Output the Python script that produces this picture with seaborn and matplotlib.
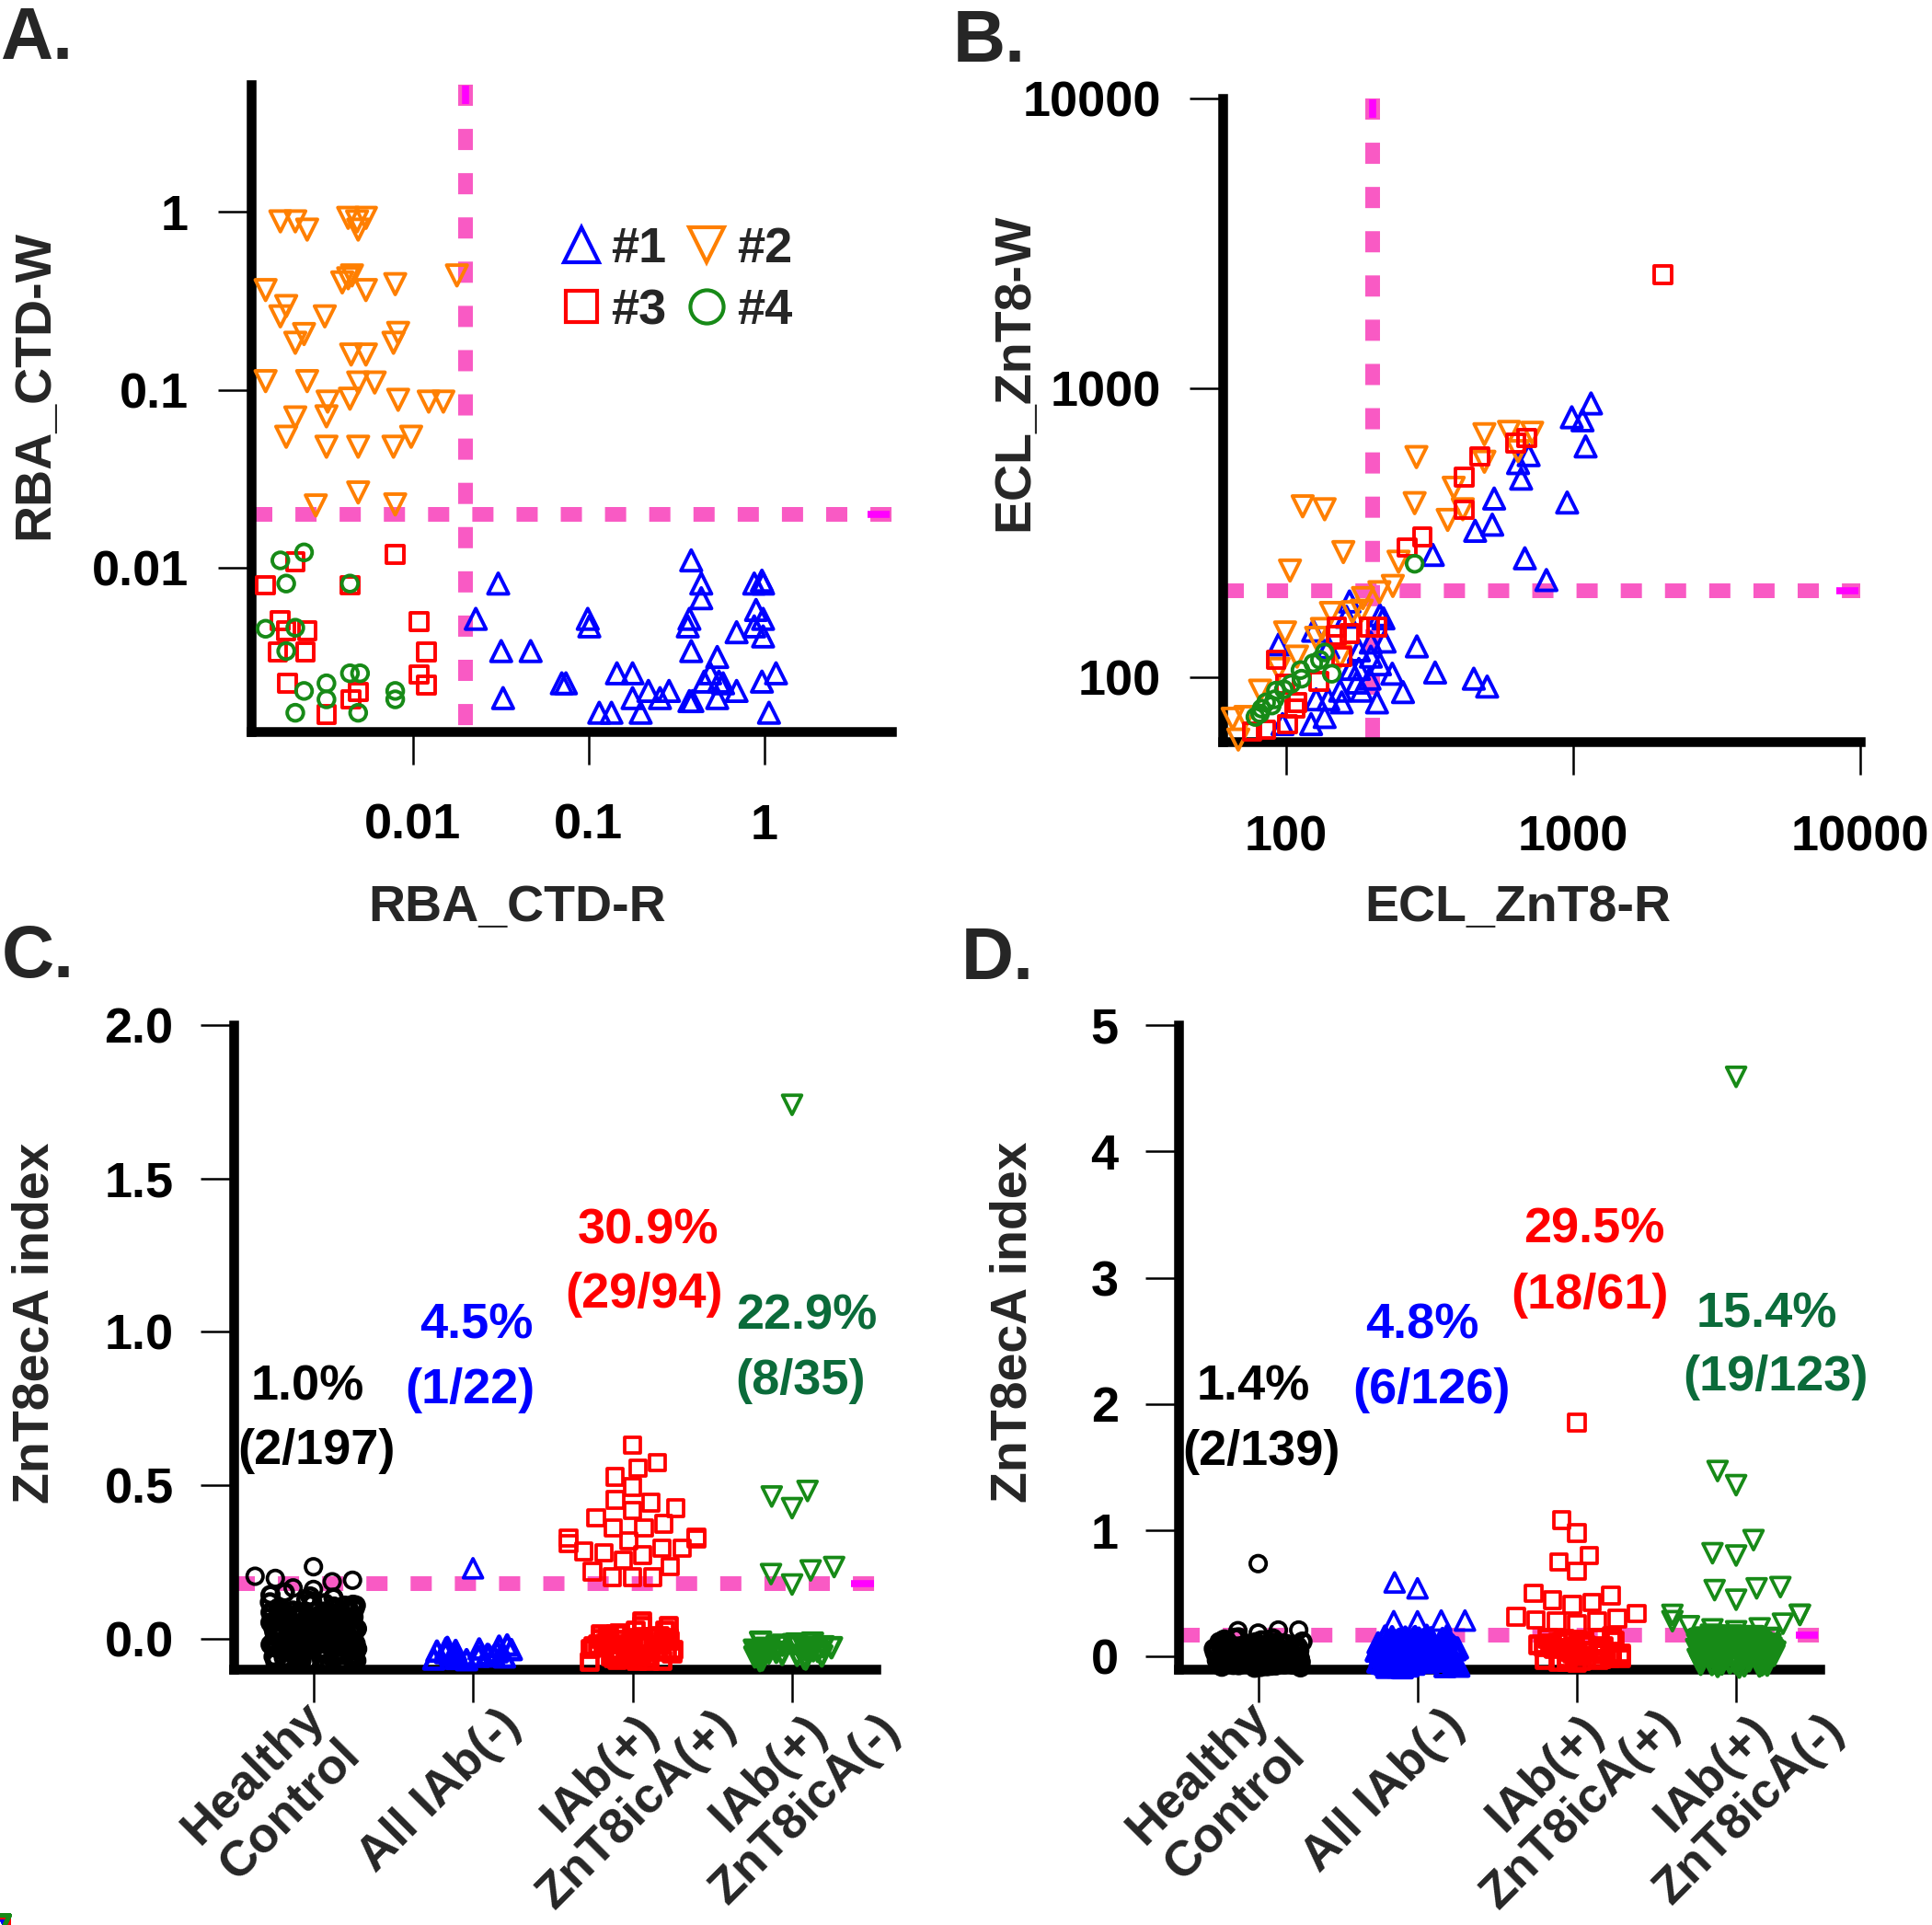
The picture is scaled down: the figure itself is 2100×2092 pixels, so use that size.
import numpy as np
import pandas as pd
import matplotlib
matplotlib.use("Agg")
import matplotlib.pyplot as plt
from matplotlib.lines import Line2D
from matplotlib.ticker import NullLocator
import seaborn as sns

# ---------------- Panel A: RBA_CTD-R (x) vs RBA_CTD-W (y) ----------------
a1_x = [0.0306, 0.0228, 0.0318, 0.0468, 0.0326, 0.0989, 0.101, 0.0704, 0.0743, 0.115, 0.135, 0.145, 0.178, 0.198,
        0.178, 0.219, 0.255, 0.287, 0.384, 0.438, 0.438, 0.375, 0.367, 0.384, 0.375, 0.39, 0.54, 0.492, 0.455,
        0.552, 0.583, 0.54, 0.696, 0.696, 0.877, 0.97, 0.985, 0.898, 0.985, 0.877, 0.985, 0.97, 1.167, 1.064]
a1_y = [0.00815, 0.00516, 0.0034, 0.0034, 0.00185, 0.00516, 0.00468, 0.00224, 0.00224, 0.00153, 0.00153, 0.00255,
        0.00255, 0.00153, 0.00185, 0.00203, 0.00185, 0.00203, 0.011, 0.00815, 0.00674, 0.00516, 0.00468, 0.0034,
        0.00178, 0.00178, 0.00315, 0.00255, 0.00229, 0.00229, 0.00224, 0.00185, 0.00434, 0.00203, 0.00815,
        0.00846, 0.00815, 0.00579, 0.00516, 0.00468, 0.00411, 0.00229, 0.00255, 0.00153]
a2_x = [0.00176, 0.00214, 0.0025, 0.00428, 0.00481, 0.0054, 0.00488, 0.00145, 0.00428, 0.0045, 0.00396, 0.0054,
        0.00793, 0.0178, 0.0019, 0.00176, 0.00315, 0.0024, 0.00214, 0.00824, 0.00775, 0.00445, 0.0054, 0.00145,
        0.0025, 0.00488, 0.00606, 0.00438, 0.00327, 0.00824, 0.0123, 0.0149, 0.00214, 0.00322, 0.0019, 0.00322,
        0.00488, 0.00775, 0.00977, 0.0028, 0.00488, 0.00793]
a2_y = [0.886, 0.886, 0.796, 0.927, 0.886, 0.927, 0.796, 0.364, 0.424, 0.44, 0.402, 0.364, 0.393, 0.44, 0.296,
        0.259, 0.259, 0.206, 0.184, 0.209, 0.184, 0.158, 0.158, 0.112, 0.112, 0.11, 0.11, 0.0892, 0.0859, 0.0879,
        0.0859, 0.0859, 0.07, 0.071, 0.0545, 0.0479, 0.0479, 0.0479, 0.0545, 0.0224, 0.0265, 0.0227]
a3_x = [0.00214, 0.00793, 0.00145, 0.00438, 0.00176, 0.0019, 0.0025, 0.0017, 0.00244, 0.0108, 0.0119, 0.00193,
        0.0108, 0.0119, 0.00488, 0.00445, 0.00322]
a3_y = [0.0108, 0.0119, 0.00796, 0.00796, 0.00505, 0.00443, 0.00443, 0.00335, 0.00335, 0.00497, 0.00335, 0.00224,
        0.00251, 0.00219, 0.0020, 0.00182, 0.0015]
a4_x = [0.00176, 0.0024, 0.0019, 0.00438, 0.00145, 0.00214, 0.0019, 0.00438, 0.005, 0.00322, 0.0024, 0.00322,
        0.00793, 0.00793, 0.00214, 0.00488]
a4_y = [0.011, 0.0122, 0.00815, 0.00815, 0.00454, 0.0046, 0.0034, 0.00255, 0.00255, 0.00224, 0.00203, 0.00182,
        0.00203, 0.00182, 0.00153, 0.00153]

# ---------------- Panel B: ECL_ZnT8-R (x) vs ECL_ZnT8-W (y) ----------------
b1_x = [1153, 988, 1077, 1104, 530, 952, 522, 455, 678, 806, 642, 658, 699, 324, 285, 330, 450, 501, 255, 218,
        220, 212, 197, 195, 176, 179, 207, 168, 154, 156, 140, 127, 136, 122, 97, 94, 124, 140, 162, 197, 179, 183,
        166, 212, 234]
b1_y = [884, 792, 773, 628, 415, 402, 337, 321, 258, 217, 550, 486, 586, 265, 128, 104, 99, 93, 89, 160, 133, 111,
        118, 99, 96, 124, 82, 107, 90, 82, 84, 84, 73, 69, 69, 130, 145, 127, 162, 132, 107, 90, 183, 164, 103]
b2_x = [490, 597, 719, 642, 490, 284, 383, 114, 136, 280, 412, 365, 158, 103, 246, 235, 211, 185, 170, 183, 143,
        99, 127, 133, 154, 109, 81, 65, 68, 72, 94]
b2_y = [692, 705, 700, 605, 556, 577, 452, 390, 381, 400, 381, 350, 271, 234, 251, 207, 197, 188, 168, 170, 167,
        143, 137, 147, 118, 118, 90, 72, 61, 73, 107]
b3_x = [2050, 631, 688, 472, 417, 417, 298, 264, 207, 195, 150, 166, 149, 156, 92, 130, 109, 101, 76, 85, 107, 99]
b3_y = [2460, 644, 671, 580, 492, 379, 306, 281, 149, 149, 149, 142, 140, 118, 115, 97, 82, 69, 65, 66, 78, 95]
b4_x = [280, 136, 144, 131, 124, 112, 113, 104, 98, 92, 91, 85, 82, 78, 81, 89]
b4_y = [247, 122, 103, 115, 112, 106, 99, 95, 91, 90, 84, 82, 78, 73, 75, 80]

# ---------------- Panel C: ZnT8ecA index, cohort 1 ----------------
groups = ["Healthy Control", "All IAb(-)", "IAb(+) ZnT8icA(+)", "IAb(+) ZnT8icA(-)"]
group_ticks = ["Healthy\nControl", "All IAb(-)", "IAb(+)\nZnT8icA(+)", "IAb(+)\nZnT8icA(-)"]

c_hc = [0.234, 0.203, 0.196, 0.190, 0.185, 0.165, 0.160, 0.150, 0.142, 0.137, 0.133, 0.126, 0.121, 0.118, 0.113,
        0.110, 0.107, 0.104, 0.100, 0.097, 0.094, 0.092, 0.088, 0.085, 0.083, 0.079, 0.076, 0.074, 0.071, 0.068,
        0.066, 0.063, 0.061, 0.058, 0.055, 0.053, 0.050, 0.047, 0.045, 0.043, 0.040, 0.037, 0.034, 0.032, 0.029,
        0.027, 0.024, 0.021, 0.019, 0.016, 0.013, 0.011, 0.008, 0.006, 0.003, 0.001, -0.002, -0.004, -0.007,
        -0.010, -0.012, -0.015, -0.017, -0.020, -0.023, -0.025, -0.028, -0.031, -0.033, -0.036, -0.038, -0.041,
        -0.044, -0.046, -0.049, -0.052, -0.054, -0.057, -0.060, -0.062, -0.065, -0.068, -0.071, -0.074, -0.077,
        0.052, 0.036, 0.018, 0.004, -0.013, -0.029, -0.047, -0.063, 0.067, 0.044, 0.025, 0.009, -0.006, -0.022,
        -0.039, -0.056, -0.070, 0.058, 0.031, 0.014, -0.018, -0.035, -0.051, 0.072, 0.048, 0.022, -0.003, -0.027,
        -0.044, -0.066, 0.086, 0.098, 0.108, 0.115, 0.091, 0.083, 0.077, 0.069, 0.064, 0.057, 0.049, 0.041, 0.035,
        0.028, 0.020, 0.015, 0.007, 0.002, -0.005, -0.011, -0.016, -0.024, -0.030, -0.037, -0.043, -0.050, -0.056,
        -0.061, -0.067, -0.073, -0.079, 0.096, 0.081, 0.066, 0.054, 0.039, 0.026, 0.012, -0.001, -0.014, -0.026,
        -0.040, -0.053, -0.064, -0.076, 0.088, 0.073, 0.060, 0.046, 0.033, 0.017, 0.005, -0.008, -0.021, -0.034,
        -0.048, -0.059, -0.072, 0.079, 0.062, 0.043, 0.023, 0.003, -0.019, -0.039, -0.058, -0.078, 0.070, 0.038,
        0.010, -0.023, -0.052, 0.055, 0.015, -0.031]
c_neg = [0.229, -0.021, -0.025, -0.029, -0.032, -0.036, -0.039, -0.043, -0.046, -0.049, -0.052, -0.055, -0.057,
         -0.060, -0.062, -0.065, -0.067, -0.069, -0.041, -0.034, -0.053, -0.058]
c_icp = [0.631, 0.573, 0.555, 0.527, 0.494, 0.452, 0.443, 0.425, 0.417, 0.394, 0.374, 0.360, 0.360, 0.330, 0.328,
         0.325, 0.318, 0.310, 0.295, 0.295, 0.284, 0.279, 0.272, 0.256, 0.234, 0.218, 0.200, 0.200, 0.200,
         0.058, 0.042, 0.042, 0.027, 0.027, 0.019, 0.015, 0.012, 0.010, 0.008, 0.006, 0.004, 0.002, 0.000, -0.002,
         -0.004, -0.006, -0.008, -0.010, -0.012, -0.014, -0.016, -0.018, -0.020, -0.022, -0.024, -0.026, -0.028,
         -0.030, -0.032, -0.034, -0.036, -0.038, -0.040, -0.042, -0.044, -0.046, -0.048, -0.050, -0.052, -0.054,
         -0.056, -0.058, -0.060, -0.062, -0.064, -0.066, -0.068, -0.070, -0.072, -0.074, 0.005, -0.015, -0.035,
         -0.055, 0.016, -0.005, -0.025, -0.045, -0.065, 0.001, -0.019, -0.039, -0.059, -0.071]
c_icn = [1.740, 0.481, 0.463, 0.425, 0.233, 0.222, 0.210, 0.176,
         -0.012, -0.015, -0.018, -0.020, -0.022, -0.025, -0.027, -0.030, -0.032, -0.035, -0.037, -0.040, -0.042,
         -0.045, -0.047, -0.050, -0.052, -0.055, -0.057, -0.060, -0.062, -0.065, -0.067, -0.070, -0.072, -0.038,
         -0.028]
c_notes = [("1.0%", "(2/197)"), ("4.5%", "(1/22)"), ("30.9%", "(29/94)"), ("22.9%", "(8/35)")]

# ---------------- Panel D: ZnT8ecA index, cohort 2 ----------------
d_hc = [0.736, 0.210, 0.210, 0.205, 0.186, 0.152, 0.149, 0.143, 0.135, 0.128, 0.121, 0.115, 0.109, 0.104, 0.098,
        0.093, 0.088, 0.084, 0.079, 0.075, 0.071, 0.066, 0.062, 0.058, 0.054, 0.050, 0.046, 0.043, 0.039, 0.035,
        0.031, 0.028, 0.024, 0.021, 0.017, 0.014, 0.010, 0.007, 0.004, 0.001, -0.003, -0.006, -0.009, -0.012,
        -0.016, -0.019, -0.022, -0.026, -0.029, -0.032, -0.036, -0.039, -0.043, -0.046, -0.050, -0.054, -0.058,
        -0.062, -0.066, -0.071, -0.076, -0.082, -0.088, 0.061, 0.037, 0.012, -0.014, -0.041, -0.068, 0.083, 0.049,
        0.026, -0.002, -0.024, -0.053, 0.094, 0.057, 0.019, -0.033, -0.061, 0.072, 0.041, 0.005, -0.047, 0.113,
        0.033, -0.018, -0.074, 0.125, 0.101, 0.087, 0.068, 0.052, 0.030, 0.015, -0.004, -0.021, -0.037, -0.056,
        -0.070, -0.085, 0.118, 0.091, 0.064, 0.044, 0.023, 0.003, -0.011, -0.028, -0.044, -0.064, -0.079, 0.106,
        0.077, 0.055, 0.032, 0.008, -0.015, -0.035, -0.057, -0.080, 0.097, 0.069, 0.038, 0.011, -0.020, -0.049,
        -0.072, 0.082, 0.047, 0.013, -0.026, -0.063]
d_neg = [0.587, 0.540, 0.285, 0.285, 0.280, 0.279,
         0.168, 0.162, 0.157, 0.151, 0.146, 0.140, 0.135, 0.129, 0.124, 0.119, 0.113, 0.108, 0.103, 0.097, 0.092,
         0.087, 0.082, 0.077, 0.072, 0.067, 0.062, 0.058, 0.053, 0.048, 0.044, 0.039, 0.035, 0.030, 0.026, 0.022,
         0.017, 0.013, 0.009, 0.005, 0.001, -0.003, -0.007, -0.011, -0.015, -0.019, -0.023, -0.027, -0.031, -0.035,
         -0.039, -0.043, -0.047, -0.051, -0.056, -0.060, -0.064, -0.069, -0.074, -0.079, -0.085, 0.154, 0.131,
         0.111, 0.094, 0.071, 0.054, 0.037, 0.019, 0.003, -0.016, -0.034, -0.052, -0.071, 0.143, 0.118, 0.086,
         0.064, 0.041, 0.024, 0.008, -0.009, -0.028, -0.045, -0.063, 0.125, 0.099, 0.075, 0.049, 0.028, 0.011,
         -0.005, -0.021, -0.041, -0.058, 0.165, 0.137, 0.158, 0.127, 0.105, 0.081, 0.059, 0.033, 0.012, -0.012,
         -0.032, -0.054, -0.076, 0.149, 0.116, 0.089, 0.060, 0.036, 0.014, -0.007, -0.030, -0.049, -0.067, -0.088,
         0.133, 0.101, 0.068, 0.045, 0.020, -0.018, -0.040, -0.081]
d_icp = [1.852, 1.079, 0.978, 0.800, 0.751, 0.677, 0.502, 0.483, 0.446, 0.428, 0.410, 0.343, 0.315, 0.300, 0.290,
         0.279, 0.279, 0.260,
         0.168, 0.160, 0.149, 0.138, 0.128, 0.117, 0.106, 0.096, 0.087, 0.078, 0.069, 0.060, 0.051, 0.043, 0.035,
         0.027, 0.019, 0.011, 0.004, -0.004, -0.011, -0.018, -0.025, -0.032, -0.039, -0.046, 0.153, 0.124, 0.092,
         0.063, 0.031, 0.002, -0.021, 0.142, 0.114, 0.047, 0.083, 0.009, -0.035, 0.131, 0.072, 0.024, -0.008]
d_icn = [4.590, 1.469, 1.357, 0.922, 0.818, 0.800, 0.550, 0.540, 0.526, 0.450, 0.330, 0.330, 0.330, 0.280, 0.260,
         0.240, 0.223, 0.215, 0.200,
         0.169, 0.163, 0.158, 0.152, 0.147, 0.141, 0.136, 0.130, 0.125, 0.120, 0.114, 0.109, 0.104, 0.098, 0.093,
         0.088, 0.083, 0.078, 0.073, 0.068, 0.063, 0.059, 0.054, 0.049, 0.045, 0.040, 0.036, 0.031, 0.027, 0.023,
         0.018, 0.014, 0.010, 0.006, 0.002, -0.002, -0.006, -0.010, -0.014, -0.018, -0.022, -0.026, -0.030, -0.034,
         -0.038, -0.042, -0.046, -0.050, -0.055, -0.059, -0.063, -0.068, -0.073, -0.078, -0.084, 0.155, 0.133,
         0.112, 0.091, 0.070, 0.052, 0.034, 0.016, -0.003, -0.020, -0.039, -0.057, -0.075, 0.144, 0.121, 0.101,
         0.079, 0.057, 0.038, 0.021, 0.004, -0.012, -0.031, -0.049, -0.067, 0.127, 0.096, 0.066, 0.043, 0.012,
         -0.016, -0.044, -0.061, 0.138, 0.087, 0.029, -0.027, 0.117, 0.061, 0.008, -0.036]
d_notes = [("1.4%", "(2/139)"), ("4.8%", "(6/126)"), ("29.5%", "(18/61)"), ("15.4%", "(19/123)")]

# ---------------- styling ----------------
BLUE, ORANGE, RED, GREEN = "#0000FF", "#FF7F00", "#FF0000", "#178A17"
TXT_GREEN = "#0B6B3A"
PINK = "#F95AC4"
DASH = (0, (1.44, 1.57))

sns.set_theme(style="ticks")
plt.rcParams["font.family"] = ["Liberation Sans", "DejaVu Sans"]
plt.rcParams["font.weight"] = "bold"
plt.rcParams["axes.labelweight"] = "bold"
np.random.seed(11)

W, H = 2100, 2092
fig = plt.figure(figsize=(W / 100, H / 100), dpi=100)


def add_ax(left, top, right, bottom):
    return fig.add_axes([left / W, 1 - bottom / H, (right - left) / W, (bottom - top) / H])


def style_axes(ax, xpad, ypad):
    for s in ["top", "right"]:
        ax.spines[s].set_visible(False)
    for s in ["left", "bottom"]:
        ax.spines[s].set_linewidth(7.6)
        ax.spines[s].set_color("black")
        ax.spines[s].set_capstyle("projecting")
    ax.tick_params(axis="both", which="major", direction="out", length=26, width=1.8, colors="black",
                   labelsize=39, bottom=True, left=True)
    ax.tick_params(axis="x", pad=xpad)
    ax.tick_params(axis="y", pad=ypad)
    ax.xaxis.set_minor_locator(NullLocator())
    ax.yaxis.set_minor_locator(NullLocator())
    ax.set_facecolor("none")
    ax.grid(False)


def cutoff_lines(ax, ythr, xthr=None):
    ax.axhline(ythr, color=PINK, lw=11.5, ls=DASH, zorder=1)
    ax.plot([0.962, 0.997], [ythr, ythr], transform=ax.get_yaxis_transform(), color="magenta",
            lw=5.5, solid_capstyle="butt", zorder=2)
    if xthr is not None:
        ax.axvline(xthr, ymin=1, ymax=0, color=PINK, lw=11.5, ls=DASH, zorder=1)
        ax.plot([xthr, xthr], [0.97, 0.998], transform=ax.get_xaxis_transform(), color="magenta",
                lw=5.5, solid_capstyle="butt", zorder=2)


def set_labels(ax, xlabel, ylabel, xpos, ypos):
    if xlabel:
        ax.set_xlabel(xlabel, fontsize=40)
        ax.xaxis.set_label_coords(*xpos)
        ax.xaxis.label.set_va("center")
    else:
        ax.set_xlabel("")
    ax.set_ylabel(ylabel, fontsize=40)
    ax.yaxis.set_label_coords(*ypos)
    ax.yaxis.label.set_va("center")


scatter_sets = [("^", 260, BLUE), ("v", 260, ORANGE), ("s", 180, RED), ("o", 160, GREEN)]

# ---------------- Panel A ----------------
axA = add_ax(273, 92, 969, 795)
axA.set_xscale("log")
axA.set_yscale("log")
for (m, s, c), xs, ys in zip(scatter_sets, [a1_x, a2_x, a3_x, a4_x], [a1_y, a2_y, a3_y, a4_y]):
    sns.scatterplot(x=xs, y=ys, marker=m, s=s, color=c, facecolor="none", edgecolor=c, linewidth=2.8,
                    ax=axA, zorder=3, clip_on=False, legend=False)
axA.set_xlim(0.0012, 5.3)
axA.set_ylim(0.0012, 5.2)
axA.set_xticks([0.01, 0.1, 1])
axA.set_xticklabels(["0.01", "0.1", "1"])
axA.set_yticks([0.01, 0.1, 1])
axA.set_yticklabels(["0.01", "0.1", "1"])
style_axes(axA, 30, 23)
cutoff_lines(axA, 0.02, 0.02)
set_labels(axA, "RBA_CTD-R", "RBA_CTD-W", (0.415, -0.273), (-0.338, 0.536))

handles = [Line2D([], [], ls="none", marker="^", ms=28, mfc="none", mec=BLUE, mew=3),
           Line2D([], [], ls="none", marker="s", ms=24, mfc="none", mec=RED, mew=3),
           Line2D([], [], ls="none", marker="v", ms=28, mfc="none", mec=ORANGE, mew=3),
           Line2D([], [], ls="none", marker="o", ms=26, mfc="none", mec=GREEN, mew=3)]
axA.legend(handles, ["#1", "#3", "#2", "#4"], ncol=2, frameon=False, loc="upper left",
           bbox_to_anchor=(605 / W, 1 - 246 / H), bbox_transform=fig.transFigure,
           handlelength=1.0, handletextpad=0.1, columnspacing=0.3, labelspacing=0.32,
           borderpad=0, borderaxespad=0, prop={"size": 39, "weight": "bold"})

# ---------------- Panel B ----------------
axB = add_ax(1329, 107, 2022, 806)
axB.set_xscale("log")
axB.set_yscale("log")
for (m, s, c), xs, ys in zip(scatter_sets, [b1_x, b2_x, b3_x, b4_x], [b1_y, b2_y, b3_y, b4_y]):
    sns.scatterplot(x=xs, y=ys, marker=m, s=s, color=c, facecolor="none", edgecolor=c, linewidth=2.8,
                    ax=axB, zorder=3, clip_on=False, legend=False)
axB.set_xlim(60, 10000)
axB.set_ylim(60, 10000)
axB.set_xticks([100, 1000, 10000])
axB.set_xticklabels(["100", "1000", "10000"])
axB.set_yticks([100, 1000, 10000])
axB.set_yticklabels(["100", "1000", "10000"])
style_axes(axB, 31, 22)
cutoff_lines(axB, 200, 200)
set_labels(axB, "ECL_ZnT8-R", "ECL_ZnT8-W", (0.463, -0.259), (-0.326, 0.574))

# ---------------- Panels C and D ----------------
dot_styles = [("o", 12.5, 0.28), ("^", 15, 0.26), ("s", 12.5, 0.28), ("v", 15, 0.25)]
dot_colors = ["black", BLUE, RED, GREEN]
note_colors = ["black", BLUE, RED, TXT_GREEN]
label_shift = [-0.26, -0.21, -0.087, -0.03]


def index_panel(ax, series, split):
    for g, vals, (m, sz, jit), c in zip(groups, series, dot_styles, dot_colors):
        df = pd.DataFrame({"group": g, "value": vals})
        low = df[df["value"] <= split]
        high = df[df["value"] > split]
        sns.stripplot(data=low, x="group", y="value", order=groups, jitter=jit, marker=m, size=sz,
                      color=c, facecolor="none", edgecolor=c, linewidth=3.4, ax=ax, clip_on=False)
        if len(high):
            sns.swarmplot(data=high, x="group", y="value", order=groups, marker=m, size=sz, color=c,
                          facecolor="none", edgecolor=c, linewidth=2.7, ax=ax, clip_on=False)


axC = add_ax(254, 1114, 952, 1814)
index_panel(axC, [c_hc, c_neg, c_icp, c_icn], 0.15)
axC.set_ylim(-0.1, 2.0)
axC.set_yticks([0, 0.5, 1.0, 1.5, 2.0])
axC.set_yticklabels(["0.0", "0.5", "1.0", "1.5", "2.0"])
cutoff_lines(axC, 0.18)
c_note_pos = [((-0.04, 0.82), (0.02, 0.61)), ((1.02, 1.02), (0.98, 0.81)),
              ((2.10, 1.33), (2.07, 1.12)), ((3.09, 1.05), (3.05, 0.84))]

axD = add_ax(1281, 1114, 1978, 1814)
index_panel(axD, [d_hc, d_neg, d_icp, d_icn], 0.17)
axD.set_ylim(-0.1, 5.0)
axD.set_yticks([0, 1, 2, 3, 4, 5])
axD.set_yticklabels(["0", "1", "2", "3", "4", "5"])
cutoff_lines(axD, 0.17)
d_note_pos = [((-0.03, 2.13), (0.02, 1.62)), ((1.03, 2.62), (1.09, 2.11)),
              ((2.11, 3.38), (2.08, 2.86)), ((3.19, 2.71), (3.25, 2.21))]

for ax, notes, pos, ypos in [(axC, c_notes, c_note_pos, (-0.309, 0.537)),
                             (axD, d_notes, d_note_pos, (-0.257, 0.539))]:
    style_axes(ax, 10, 21)
    ax.set_xlim(-0.5, 3.525)
    ax.set_xticks(range(4))
    ax.tick_params(axis="x", labelbottom=False)
    set_labels(ax, None, "ZnT8ecA index", None, ypos)
    for i, (lab, dx) in enumerate(zip(group_ticks, label_shift)):
        ax.text(i + dx, -0.19, lab, transform=ax.get_xaxis_transform(), rotation=45, rotation_mode="anchor",
                ha="center", va="center", multialignment="center", fontsize=39, fontweight="bold",
                linespacing=1.15)
    for (pct, frac), (p1, p2), col in zip(notes, pos, note_colors):
        ax.text(*p1, pct, ha="center", va="center", fontsize=39, color=col, fontweight="bold")
        ax.text(*p2, frac, ha="center", va="center", fontsize=39, color=col, fontweight="bold")

# panel letters
for lab, x, yb in [("A.", 0, 64), ("B.", 1036, 67), ("C.", 2, 1062), ("D.", 1045, 1064)]:
    fig.text(x / W, 1 - yb / H, lab, fontsize=57, fontweight="bold", ha="left", va="baseline")

fig.savefig("out.png", dpi=100)
